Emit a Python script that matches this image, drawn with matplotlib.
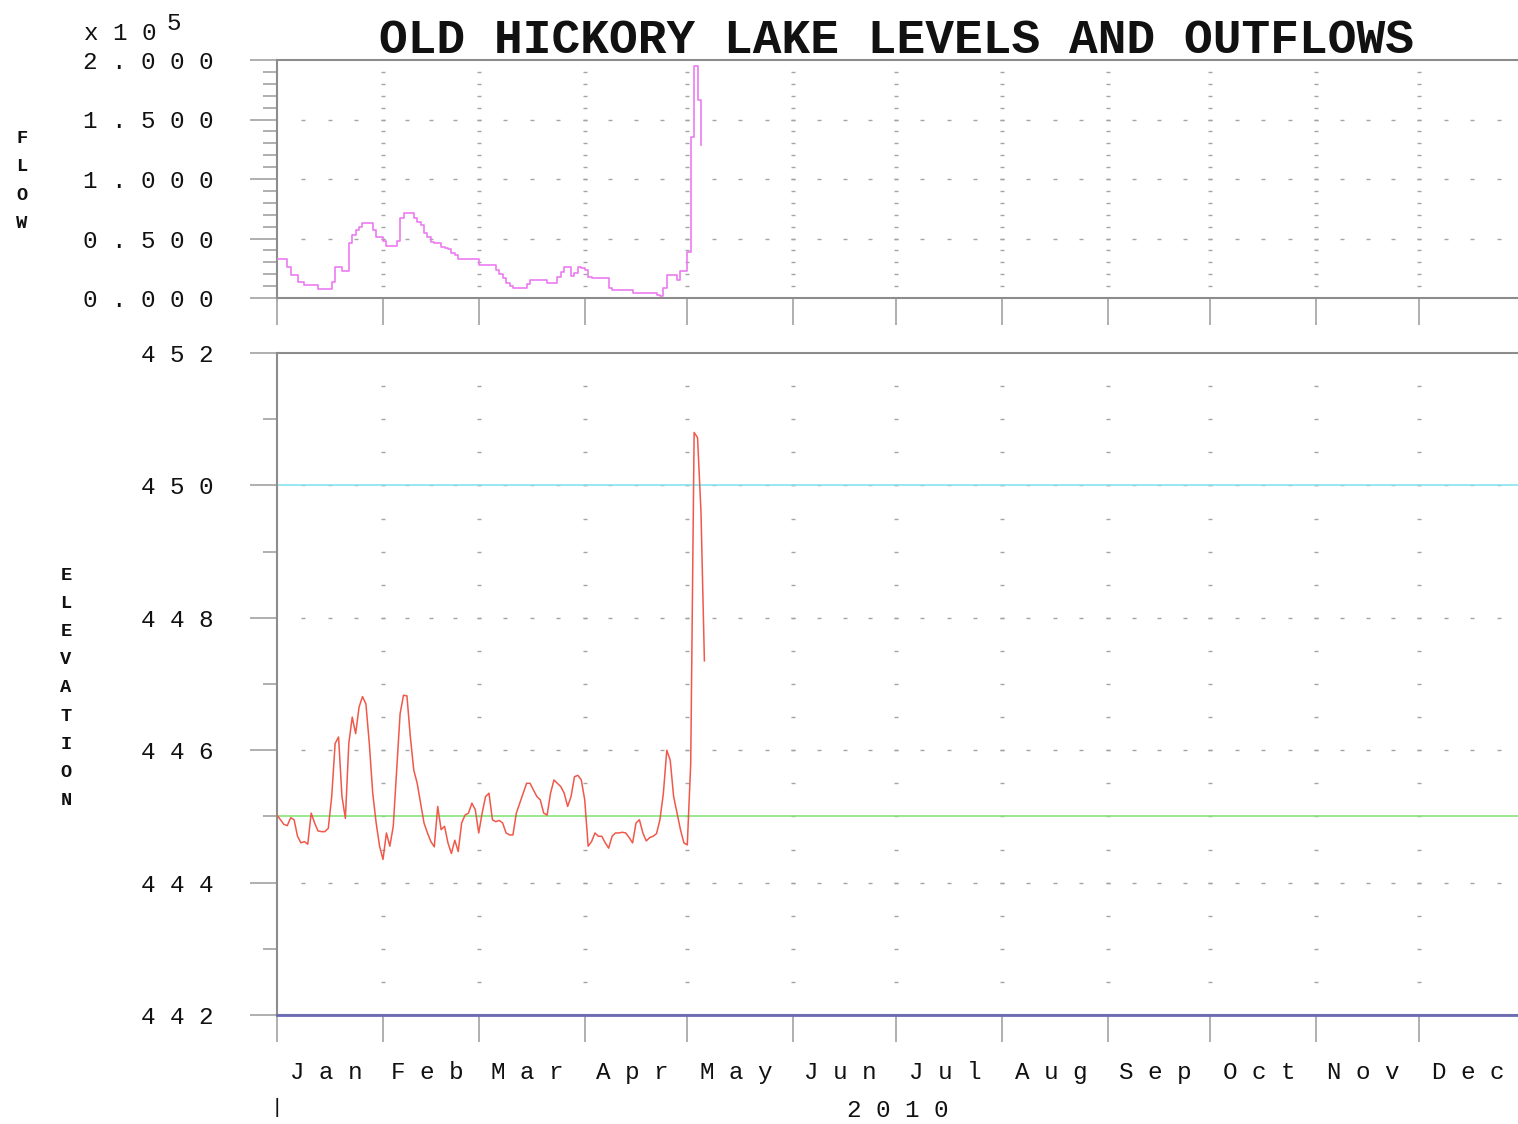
import matplotlib
matplotlib.use("Agg")
import matplotlib.pyplot as plt
import matplotlib.dates as mdates
from matplotlib.ticker import FixedLocator, MultipleLocator, NullFormatter
import pandas as pd

plt.rcParams['font.family'] = ['Liberation Mono', 'DejaVu Sans Mono']
plt.rcParams['lines.scale_dashes'] = False

# ---------------- data ----------------
TITLE = "OLD HICKORY LAKE LEVELS AND OUTFLOWS"
START_DATE = "2010-01-01"
END_DATE = "2011-01-01"
YEAR_LABEL = "2010"
MONTHS = ["Jan", "Feb", "Mar", "Apr", "May", "Jun",
          "Jul", "Aug", "Sep", "Oct", "Nov", "Dec"]

# daily outflow (cfs), from Jan 1 2010
FLOW_CFS = [
    32500, 32500, 32500, 26300, 19300, 19300, 13700, 13700, 10900, 10900,
    10900, 10900, 7300, 7300, 7300, 7300, 13700, 25800, 25800, 23000,
    23000, 46000, 53000, 57000, 60000, 62800, 62800, 62800, 57000, 51500,
    51500, 48000, 43700, 43700, 43700, 48000, 67000, 71200, 71200, 71200,
    67000, 64000, 61000, 55000, 51000, 47300, 46500, 46500, 43000, 42000,
    41000, 38000, 36500, 32500, 32500, 32500, 32500, 32500, 32500, 27700,
    27700, 27700, 27700, 27700, 23500, 20000, 16500, 13000, 10500, 8500,
    8500, 8500, 8500, 12000, 15100, 15100, 15100, 15100, 15100, 13000,
    13000, 13000, 18000, 22000, 25800, 25800, 18500, 21000, 25800, 25000,
    23500, 18000, 16500, 16500, 16500, 16500, 16500, 8000, 7000, 6700,
    6700, 6700, 6700, 6700, 4000, 4000, 4000, 4000, 4000, 4000,
    4000, 2500, 1700, 8000, 19300, 19300, 19300, 15000, 23000, 23000,
    39000, 135600, 195000, 166000, 128600,
]

# daily pool elevation (ft), from Jan 1 2010
ELEVATION_FT = [
    445.02, 444.95, 444.88, 444.86, 444.98, 444.95, 444.70, 444.60, 444.62, 444.58,
    445.05, 444.90, 444.78, 444.77, 444.77, 444.82, 445.30, 446.10, 446.20, 445.30,
    444.97, 446.10, 446.50, 446.25, 446.65, 446.81, 446.70, 446.10, 445.35, 444.90,
    444.55, 444.35, 444.75, 444.55, 444.85, 445.70, 446.55, 446.83, 446.82, 446.20,
    445.70, 445.50, 445.20, 444.90, 444.75, 444.62, 444.54, 445.15, 444.80, 444.85,
    444.60, 444.44, 444.64, 444.47, 444.90, 445.02, 445.05, 445.20, 445.10, 444.75,
    445.05, 445.30, 445.35, 444.95, 444.92, 444.94, 444.90, 444.75, 444.72, 444.72,
    445.05, 445.20, 445.35, 445.50, 445.50, 445.40, 445.30, 445.25, 445.05, 445.02,
    445.35, 445.55, 445.50, 445.45, 445.35, 445.15, 445.30, 445.60, 445.62, 445.55,
    445.25, 444.55, 444.62, 444.75, 444.70, 444.70, 444.60, 444.52, 444.70, 444.75,
    444.75, 444.76, 444.75, 444.68, 444.60, 444.90, 444.95, 444.75, 444.63, 444.68,
    444.70, 444.74, 444.95, 445.35, 446.00, 445.85, 445.30, 445.05, 444.80, 444.60,
    444.57, 445.80, 450.80, 450.72, 449.60, 447.35,
]

# guide levels (ft)
TOP_GUIDE_FT = 450.0
BOTTOM_GUIDE_FT = 445.0
FLOOR_FT = 442.0

FLOW_TICKS = [0, 50000, 100000, 150000, 200000]
FLOW_TICK_LABELS = ["0.000", "0.500", "1.000", "1.500", "2.000"]
ELEV_TICKS = [442, 444, 446, 448, 450, 452]
ELEV_TICK_LABELS = ["442", "444", "446", "448", "450", "452"]


def spaced(s):
    return " ".join(s)


# ---------------- figure ----------------
W, H = 1518, 1124
fig = plt.figure(figsize=(W / 100, H / 100), dpi=100)

AX_L, AX_R = 277, 1525


def px_rect(l, t, r, b):
    return [l / W, 1 - b / H, (r - l) / W, (b - t) / H]


ax_f = fig.add_axes(px_rect(AX_L, 60, AX_R, 298))
ax_e = fig.add_axes(px_rect(AX_L, 353, AX_R, 1015))

x0 = mdates.date2num(pd.Timestamp(START_DATE))
x1 = mdates.date2num(pd.Timestamp(END_DATE))
days_per_px = (x1 - x0) / (AX_R - AX_L)
month_starts = mdates.date2num(pd.date_range(START_DATE, END_DATE, freq="MS"))
# month labels sit slightly left of the month centre
label_pos = [(a + b) / 2 - 4 * days_per_px
             for a, b in zip(month_starts[:-1], month_starts[1:])]
quarter_pts = []
for i, (a, b) in enumerate(zip(month_starts[:-1], month_starts[1:])):
    for k in range(4):
        if i == 0 and k == 0:
            continue
        quarter_pts.append(a + (b - a) * k / 4)

flow_x = mdates.date2num(pd.date_range(START_DATE, periods=len(FLOW_CFS), freq="D"))
elev_x = mdates.date2num(pd.date_range(START_DATE, periods=len(ELEVATION_FT), freq="D"))

SPINE = "#8c8c8c"
TICKC = "#9a9a9a"
DOTC = "#a4a4a4"
TXT = "#111111"


def style_axes(ax, yticks, ylabels, minor_step, vdots, hlines, show_months):
    ax.set_xlim(x0, x1)
    ax.xaxis.set_major_locator(FixedLocator(month_starts[:-1]))
    ax.xaxis.set_major_formatter(NullFormatter())
    if show_months:
        ax.set_xticks(label_pos, minor=True, labels=[spaced(m) for m in MONTHS])
    else:
        ax.xaxis.set_minor_locator(FixedLocator(label_pos))
        ax.xaxis.set_minor_formatter(NullFormatter())
    ax.tick_params(axis="x", which="major", direction="out", length=19.4,
                   width=1.1, color=TICKC)
    ax.tick_params(axis="x", which="minor", length=0, pad=33, labelsize=17.5,
                   labelcolor=TXT)
    ax.set_yticks(yticks, labels=[spaced(s) for s in ylabels])
    ax.yaxis.set_minor_locator(MultipleLocator(minor_step))
    ax.tick_params(axis="y", which="major", direction="out", length=19.4,
                   width=1.1, color=TICKC, pad=26, labelsize=17.5, labelcolor=TXT)
    ax.tick_params(axis="y", which="minor", direction="out", length=10,
                   width=1.1, color=TICKC)
    for s in ("left", "top", "bottom"):
        ax.spines[s].set_color(SPINE)
        ax.spines[s].set_linewidth(1.5)
    ax.spines["right"].set_visible(False)
    # dotted grid
    for xm in month_starts[1:-1]:
        ax.plot([xm] * len(vdots), vdots, ls="none", marker="_", ms=2.6,
                mew=1.0, color=DOTC, zorder=1)
    for yv in hlines:
        ax.plot(quarter_pts, [yv] * len(quarter_pts), ls="none", marker="_",
                ms=2.6, mew=1.0, color=DOTC, zorder=1)


flow_vdots = [v * 10000 for v in range(1, 20)]
style_axes(ax_f, FLOW_TICKS, FLOW_TICK_LABELS, 10000, flow_vdots,
           [50000, 100000, 150000], False)
ax_f.set_ylim(0, 200000)

elev_vdots = [442.5 + 0.5 * i for i in range(19)]
style_axes(ax_e, ELEV_TICKS, ELEV_TICK_LABELS, 1, elev_vdots,
           [444, 446, 448, 450], True)
ax_e.set_ylim(442, 452)

# series
ax_f.plot(flow_x, FLOW_CFS, color="#ec7cf0", lw=1.2, drawstyle="steps-post", zorder=4)

ax_e.axhline(TOP_GUIDE_FT, color="#86e4ef", lw=1.2, zorder=2)
ax_e.axhline(BOTTOM_GUIDE_FT, color="#86e47a", lw=1.2, zorder=2)
ax_e.axhline(FLOOR_FT, color="#6a6ab4", lw=2.0, zorder=3, clip_on=False)
ax_e.plot(elev_x, ELEVATION_FT, color="#f0584a", lw=1.1, zorder=4)

# texts
fig.text(896.5 / W, 1 - 53 / H, TITLE, ha="center", va="baseline",
         weight="bold", size=34.5, color=TXT)
fig.text(22 / W, 1 - 181 / H, "\n".join("FLOW"), ha="center", va="center",
         weight="bold", size=13.5, linespacing=1.85, color=TXT)
fig.text(66 / W, 1 - 688 / H, "\n".join("ELEVATION"), ha="center", va="center",
         weight="bold", size=13.5, linespacing=1.85, color=TXT)
fig.text(84 / W, 1 - 40 / H, spaced("x10"), ha="left", va="baseline", size=17.5,
         color=TXT)
fig.text(166 / W, 1 - 30 / H, "5", ha="left", va="baseline", size=17.5, color=TXT)
fig.text(898 / W, 1 - 1117 / H, spaced(YEAR_LABEL), ha="center", va="baseline",
         size=17.5, color=TXT)
fig.text(277 / W, 1 - 1113 / H, "|", ha="center", va="baseline", size=15, color=TXT)

fig.savefig("out.png", dpi=100)
